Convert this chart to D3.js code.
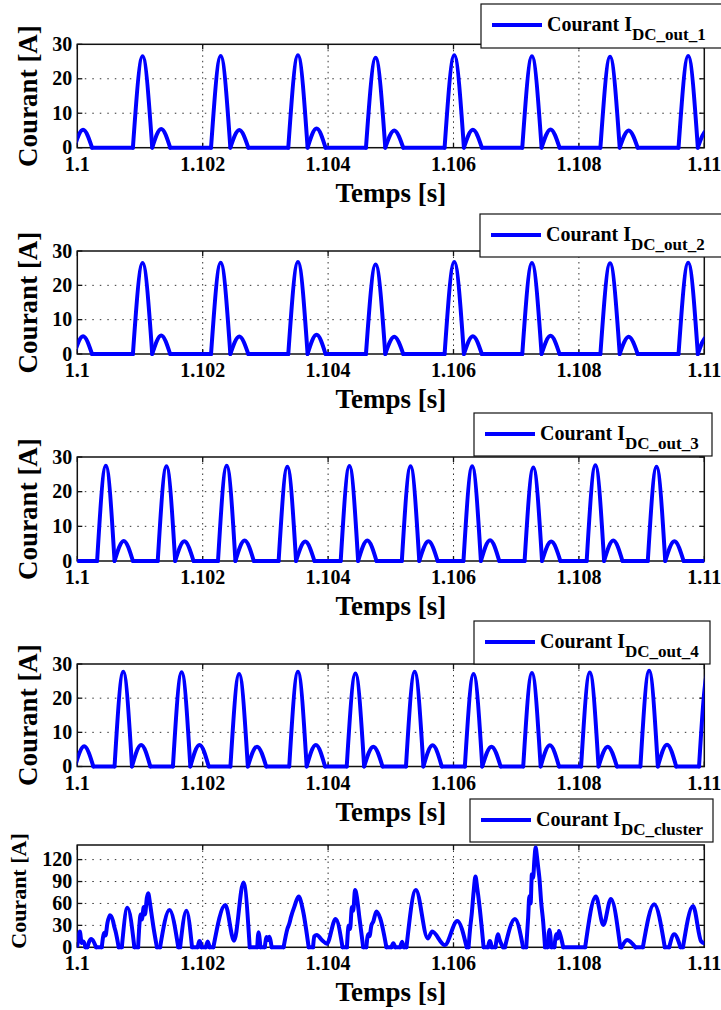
<!DOCTYPE html>
<html><head><meta charset="utf-8">
<script src="https://cdn.jsdelivr.net/npm/d3@7"></script>
<style>
body{margin:0;background:#fff}
svg{display:block}
text{font-family:"Liberation Serif","Times New Roman",Times,serif;font-weight:bold;fill:#000}
</style>
</head><body>
<svg id="c" width="721" height="1010"></svg>
<script>
// ---------- DATA ----------
const xDomain = [1.1, 1.11];
const xTicks = [1.1, 1.102, 1.104, 1.106, 1.108, 1.11];
const xTickLabels = ["1.1", "1.102", "1.104", "1.106", "1.108", "1.11"];
const yTicksOut = [0, 10, 20, 30];
const yTickLabelsOut = ["0", "10", "20", "30"];
const yTicksCluster = [0, 30, 60, 90, 120];
const yTickLabelsCluster = ["0", "30", "60", "90", "120"];
const seriesNames = ["DC_out_1", "DC_out_2", "DC_out_3", "DC_out_4", "DC_cluster"];

// humps: [start time, end time, peak value]
const bigHumps1 = [
  [1.100887, 1.101195, 26.5], [1.102133, 1.102441, 26.6], [1.103365, 1.103673, 26.8],
  [1.104604, 1.104912, 26.1], [1.105858, 1.106166, 26.8], [1.107097, 1.107405, 26.5],
  [1.108343, 1.108651, 26.4], [1.109589, 1.109897, 26.6]
];
const smallHumps1 = [
  [1.099949, 1.100235, 5.2], [1.101195, 1.101481, 5.4], [1.102441, 1.102727, 5.1],
  [1.103673, 1.103959, 5.6], [1.104912, 1.105198, 5.0], [1.106166, 1.106452, 5.2],
  [1.107405, 1.107691, 5.3], [1.108651, 1.108937, 5.0], [1.109897, 1.110183, 5.0]
];
const bigHumps2 = [
  [1.100887, 1.101195, 26.5], [1.102133, 1.102441, 26.6], [1.103365, 1.103673, 26.8],
  [1.104604, 1.104912, 26.1], [1.105858, 1.106166, 26.8], [1.107097, 1.107405, 26.5],
  [1.108343, 1.108651, 26.4], [1.109589, 1.109897, 26.6]
];
const smallHumps2 = [
  [1.099949, 1.100235, 5.2], [1.101195, 1.101481, 5.4], [1.102441, 1.102727, 5.1],
  [1.103673, 1.103959, 5.6], [1.104912, 1.105198, 5.0], [1.106166, 1.106452, 5.2],
  [1.107405, 1.107691, 5.3], [1.108651, 1.108937, 5.0], [1.109897, 1.110183, 5.0]
];
const bigHumps3 = [
  [1.100316, 1.100594, 27.5], [1.101283, 1.101561, 27.3], [1.102244, 1.102522, 27.5],
  [1.103211, 1.103489, 27.2], [1.104201, 1.104479, 27.4], [1.105176, 1.105454, 27.3],
  [1.106159, 1.106437, 27.3], [1.107134, 1.107412, 27.0], [1.108124, 1.108402, 27.6],
  [1.109099, 1.109377, 27.2]
];
const smallHumps3 = [
  [1.100594, 1.100887, 5.8], [1.101561, 1.101854, 5.7], [1.102522, 1.102815, 5.9],
  [1.103489, 1.103782, 5.6], [1.104479, 1.104772, 5.9], [1.105454, 1.105747, 5.7],
  [1.106437, 1.106730, 6.0], [1.107412, 1.107705, 5.6], [1.108402, 1.108695, 5.9],
  [1.109377, 1.109670, 5.7]
];
const bigHumps4 = [
  [1.100594, 1.100872, 27.7], [1.101525, 1.101803, 27.6], [1.102442, 1.102720, 27.1],
  [1.103380, 1.103658, 27.7], [1.104297, 1.104575, 27.2], [1.105242, 1.105520, 27.7],
  [1.106181, 1.106459, 27.1], [1.107112, 1.107390, 27.4], [1.108035, 1.108313, 27.5],
  [1.108981, 1.109259, 28.0], [1.109916, 1.110194, 27.5]
];
const smallHumps4 = [
  [1.099963, 1.100256, 5.9], [1.100872, 1.101165, 6.3], [1.101803, 1.102096, 6.3],
  [1.102720, 1.103013, 5.8], [1.103658, 1.103951, 6.3], [1.104575, 1.104868, 5.8],
  [1.105520, 1.105813, 6.2], [1.106459, 1.106752, 5.8], [1.107390, 1.107683, 6.2],
  [1.108313, 1.108606, 5.8], [1.109259, 1.109552, 6.4]
];
// cluster current: [time, value]
const clusterPts = [
  [1.1,2],[1.10004,21.5],[1.10007,6],[1.10010,8],[1.10013,0],
  [1.10016,0],[1.10022,11.4],[1.10030,0],
  [1.10039,0],[1.10043,20],[1.10045,16],[1.10048,33],[1.10052,44],[1.10057,36],[1.10059,28],[1.10061,22],[1.10066,0],
  [1.10071,0],[1.10080,54],[1.10091,0],
  [1.10097,0],[1.10099,30],[1.10101,45],[1.10103,38],[1.10106,55],[1.10108,45],[1.10111,68],[1.10113,74],[1.10116,60],[1.10118,48],[1.10121,30],[1.10127,0],
  [1.10132,0],[1.10147,51],[1.10161,0],
  [1.10164,0],[1.10174,50],[1.10183,0],
  [1.10192,0],[1.10195,8.7],[1.10198,0],
  [1.10205,0],[1.10208,8],[1.10211,0],
  [1.10217,0],[1.10236,58],[1.10250,9],[1.10265,88.6],[1.10275,0],
  [1.10287,0],[1.10289,20.5],[1.10292,0],
  [1.10299,0],[1.10302,14],[1.10304,10],[1.10306,14.6],[1.10310,0],
  [1.10329,0],[1.10335,25],[1.10338,32],[1.10341,42],[1.10346,55],[1.10353,69.4],[1.10360,50],[1.10369,0],
  [1.10376,0],[1.10378,15],[1.10382,17],[1.10390,10],[1.10398,5],[1.10412,38.8],[1.10423,0],
  [1.10430,0],[1.10433,30],[1.10435,25],[1.10438,55],[1.10440,50],[1.10443,78.5],[1.10446,68],[1.10450,40],[1.10456,0],
  [1.10461,0],[1.10464,18],[1.10466,15],[1.10469,30],[1.10472,35],[1.10477,49],[1.10483,40],[1.10493,0],
  [1.10501,0],[1.10504,5.5],[1.10507,0],
  [1.10515,0],[1.10518,7.6],[1.10521,0],
  [1.10525,0],[1.10540,78.5],[1.10559,12],[1.10566,21.5],[1.10586,3],[1.10606,36],[1.10621,0],
  [1.10624,0],[1.10627,30],[1.10629,45],[1.10632,75],[1.10635,96.8],[1.10638,80],[1.10641,60],[1.10648,0],
  [1.10655,0],[1.10658,8.7],[1.10661,0],
  [1.10667,0],[1.10669,12],[1.10671,17.8],[1.10673,12],[1.10676,5],[1.10679,0],
  [1.10682,0],[1.10698,38.8],[1.10711,0],
  [1.10716,0],[1.10719,40],[1.10721,70],[1.10723,60],[1.10725,100],[1.10727,95],[1.10729,120],[1.10731,136.5],[1.10733,125],[1.10735,110],[1.10737,95],[1.10740,60],[1.10743,35],[1.10746,0],
  [1.10750,0],[1.10753,24],[1.10756,0],
  [1.10761,0],[1.10764,18],[1.10766,12],[1.10768,22.4],[1.10771,15],[1.10775,0],
  [1.10810,0],[1.10827,69.4],[1.10839,30.6],[1.10851,66.2],[1.10866,0],
  [1.10868,0],[1.10877,10],[1.10890,0],
  [1.10902,0],[1.10920,58.9],[1.10937,0],
  [1.10944,0],[1.10952,17.8],[1.10962,0],
  [1.10966,0],[1.10982,56.6],[1.10995,8],[1.11,5.6]
];

// ---------- BUILD ----------
function humpPoints(big, small) {
  const hs = big.concat(small).sort((a, b) => a[0] - b[0]);
  const pts = [];
  if (hs[0][0] > xDomain[0]) pts.push([xDomain[0], 0]);
  hs.forEach(([s, e, a]) => {
    if (!pts.length || pts[pts.length - 1][0] !== s) pts.push([s, 0]);
    pts.push([(s + e) / 2, a]);
    pts.push([e, 0]);
  });
  if (pts[pts.length - 1][0] < xDomain[1]) pts.push([xDomain[1], 0]);
  return pts;
}
function splitAtZeros(pts) {
  const segs = [];
  let cur = [pts[0]];
  for (let k = 1; k < pts.length; k++) {
    cur.push(pts[k]);
    if (pts[k][1] === 0) { segs.push(cur); cur = [pts[k]]; }
  }
  if (cur.length > 1) segs.push(cur);
  return segs;
}

const seriesData = [
  humpPoints(bigHumps1, smallHumps1),
  humpPoints(bigHumps2, smallHumps2),
  humpPoints(bigHumps3, smallHumps3),
  humpPoints(bigHumps4, smallHumps4),
  clusterPts
];

const panels = [
  {top: 44.3, bottom: 147.7, yDomain: [0, 30], ticks: yTicksOut, labels: yTickLabelsOut,
   legend: {x: 481, y: 4, w: 242, h: 44}, ylx: 37, yls: 27, ylc: 96},
  {top: 251, bottom: 354, yDomain: [0, 30], ticks: yTicksOut, labels: yTickLabelsOut,
   legend: {x: 480, y: 214, w: 243, h: 43}, ylx: 37, yls: 27, ylc: 302.5},
  {top: 457, bottom: 561, yDomain: [0, 30], ticks: yTicksOut, labels: yTickLabelsOut,
   legend: {x: 474, y: 413, w: 238, h: 43}, ylx: 37, yls: 27, ylc: 509},
  {top: 664, bottom: 766.5, yDomain: [0, 30], ticks: yTicksOut, labels: yTickLabelsOut,
   legend: {x: 474, y: 621, w: 236, h: 43}, ylx: 37, yls: 27, ylc: 715},
  {top: 845, bottom: 947.3, yDomain: [0, 140], ticks: yTicksCluster, labels: yTickLabelsCluster,
   legend: {x: 470, y: 799, w: 243, h: 43}, ylx: 26, yls: 22, ylc: 891}
];

const svg = d3.select("#c");
const x = d3.scaleLinear().domain(xDomain).range([77.3, 704.3]);
const x0 = x.range()[0], x1 = x.range()[1];
const tickLen = 5;

panels.forEach((p, i) => {
  const y = d3.scaleLinear().domain(p.yDomain).range([p.bottom, p.top]);
  const g = svg.append("g");

  // grid
  g.selectAll(".gx").data(xTicks.filter(t => t > xDomain[0] && t < xDomain[1])).join("line")
    .attr("x1", d => x(d)).attr("x2", d => x(d)).attr("y1", p.top).attr("y2", p.bottom)
    .attr("stroke", "#333").attr("stroke-width", 1).attr("stroke-dasharray", "1.5,4");
  g.selectAll(".gy").data(p.ticks.filter(t => t > p.yDomain[0] && t < p.yDomain[1])).join("line")
    .attr("x1", x0).attr("x2", x1).attr("y1", d => y(d)).attr("y2", d => y(d))
    .attr("stroke", "#333").attr("stroke-width", 1).attr("stroke-dasharray", "1.5,6");

  // box
  g.append("rect").attr("x", x0).attr("y", p.top).attr("width", x1 - x0).attr("height", p.bottom - p.top)
    .attr("fill", "none").attr("stroke", "#111").attr("stroke-width", 1.5);

  // ticks (inward, all sides)
  xTicks.forEach(t => {
    g.append("line").attr("x1", x(t)).attr("x2", x(t)).attr("y1", p.bottom).attr("y2", p.bottom - tickLen)
      .attr("stroke", "#111").attr("stroke-width", 1.3);
    g.append("line").attr("x1", x(t)).attr("x2", x(t)).attr("y1", p.top).attr("y2", p.top + tickLen)
      .attr("stroke", "#111").attr("stroke-width", 1.3);
  });
  p.ticks.forEach(t => {
    g.append("line").attr("x1", x0).attr("x2", x0 + tickLen).attr("y1", y(t)).attr("y2", y(t))
      .attr("stroke", "#111").attr("stroke-width", 1.3);
    g.append("line").attr("x1", x1).attr("x2", x1 - tickLen).attr("y1", y(t)).attr("y2", y(t))
      .attr("stroke", "#111").attr("stroke-width", 1.3);
  });

  // clip
  svg.append("clipPath").attr("id", "clip" + i).append("rect")
    .attr("x", x0).attr("y", p.top - 20).attr("width", x1 - x0).attr("height", p.bottom - p.top + 30);

  // series
  const line = d3.line().x(d => x(d[0])).y(d => y(d[1])).curve(d3.curveMonotoneX);
  g.append("g").attr("clip-path", "url(#clip" + i + ")")
    .selectAll("path").data(splitAtZeros(seriesData[i])).join("path")
    .attr("d", line).attr("fill", "none").attr("stroke", "#0000ff")
    .attr("stroke-width", 4).attr("stroke-linejoin", "round").attr("stroke-linecap", "round");

  // tick labels
  g.selectAll(".xl").data(xTicks).join("text")
    .attr("x", d => x(d)).attr("y", p.bottom + 23).attr("text-anchor", "middle")
    .style("font-size", "20px").text((d, k) => xTickLabels[k]);
  g.selectAll(".yl").data(p.ticks).join("text")
    .attr("x", x0 - 5).attr("y", d => y(d) + 6.5).attr("text-anchor", "end")
    .style("font-size", "20px").text((d, k) => p.labels[k]);

  // axis labels
  g.append("text").attr("x", (x0 + x1) / 2).attr("y", p.bottom + 54).attr("text-anchor", "middle")
    .style("font-size", "27px").text("Temps [s]");
  g.append("text").attr("transform", `translate(${p.ylx},${p.ylc}) rotate(-90)`)
    .attr("text-anchor", "middle").style("font-size", p.yls + "px").text("Courant [A]");

  // legend
  const L = p.legend;
  g.append("rect").attr("x", L.x).attr("y", L.y).attr("width", L.w).attr("height", L.h)
    .attr("fill", "#fff").attr("stroke", "#111").attr("stroke-width", 1.2);
  g.append("line").attr("x1", L.x + 11).attr("x2", L.x + 61).attr("y1", L.y + 21).attr("y2", L.y + 21)
    .attr("stroke", "#0000ff").attr("stroke-width", 4);
  const lt = g.append("text").attr("x", L.x + 66).attr("y", L.y + 27).style("font-size", "20px");
  lt.append("tspan").text("Courant I");
  lt.append("tspan").attr("dy", 9).style("font-size", "17px").text(seriesNames[i]);
});
</script>
</body></html>
